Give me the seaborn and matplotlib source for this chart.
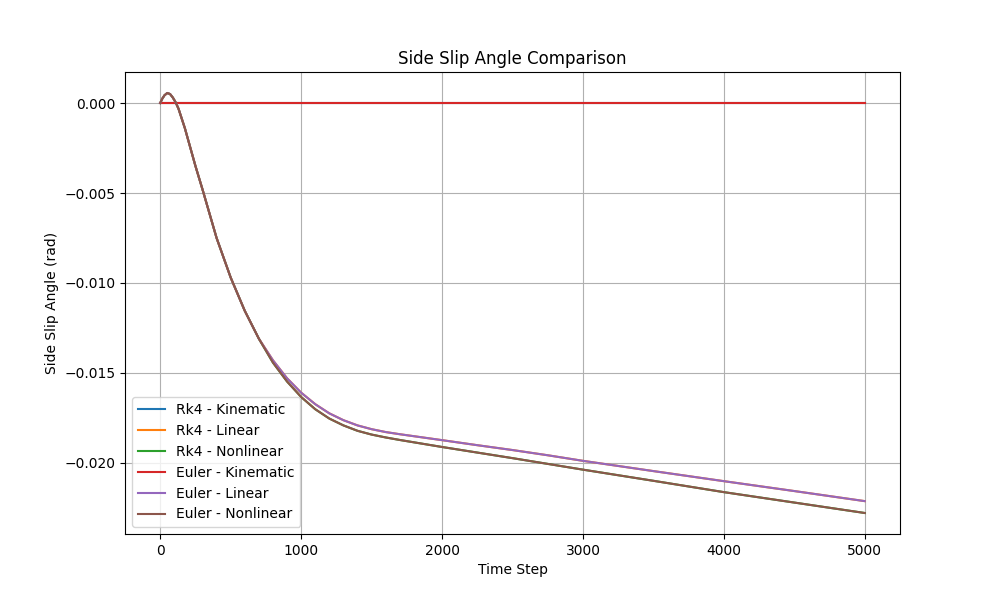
import numpy as np
import pandas as pd
import matplotlib
matplotlib.use("Agg")
import matplotlib.pyplot as plt
import seaborn as sns

steps = [0, 15, 30, 50, 70, 90, 110, 130, 150, 175, 200, 250, 300, 400, 500,
         600, 700, 800, 900, 1000, 1100, 1200, 1300, 1400, 1500, 1600, 1700,
         1800, 2000, 2250, 2500, 2750, 3000, 3500, 4000, 4500, 5000]

kinematic = [0.0] * len(steps)

linear = [0.0, 0.00025, 0.00043, 0.00056, 0.00050, 0.00030, 0.00003, -0.00032,
          -0.0008, -0.0014, -0.0021, -0.0035, -0.0048, -0.0075, -0.0097,
          -0.01155, -0.0131, -0.0143, -0.0153, -0.0161, -0.01674, -0.01725,
          -0.01763, -0.01792, -0.01813, -0.01829, -0.01841, -0.01852, -0.01874,
          -0.01902, -0.01929, -0.01958, -0.01989, -0.02046, -0.02102, -0.02157,
          -0.02213]

nonlinear = [0.0, 0.00025, 0.00043, 0.00056, 0.00050, 0.00030, 0.00003, -0.00032,
             -0.0008, -0.0014, -0.0021, -0.0035, -0.0048, -0.0075, -0.0097,
             -0.01155, -0.0131, -0.01443, -0.01548, -0.01634, -0.01702, -0.01754,
             -0.01792, -0.01822, -0.01843, -0.01859, -0.01873, -0.01886, -0.01912,
             -0.01943, -0.01974, -0.02006, -0.02038, -0.02100, -0.02163, -0.02221,
             -0.02279]

series = {
    'Rk4 - Kinematic': kinematic,
    'Rk4 - Linear': linear,
    'Rk4 - Nonlinear': nonlinear,
    'Euler - Kinematic': kinematic,
    'Euler - Linear': linear,
    'Euler - Nonlinear': nonlinear,
}

colors = sns.color_palette("tab10", 6)

fig, ax = plt.subplots(figsize=(10, 6), dpi=100)
for (name, vals), c in zip(series.items(), colors):
    sns.lineplot(x=steps, y=vals, label=name, color=c, ax=ax)

ax.set_title("Side Slip Angle Comparison")
ax.set_xlabel("Time Step")
ax.set_ylabel("Side Slip Angle (rad)")
ax.grid(True)
ax.legend(loc='lower left')

plt.savefig("out.png")
